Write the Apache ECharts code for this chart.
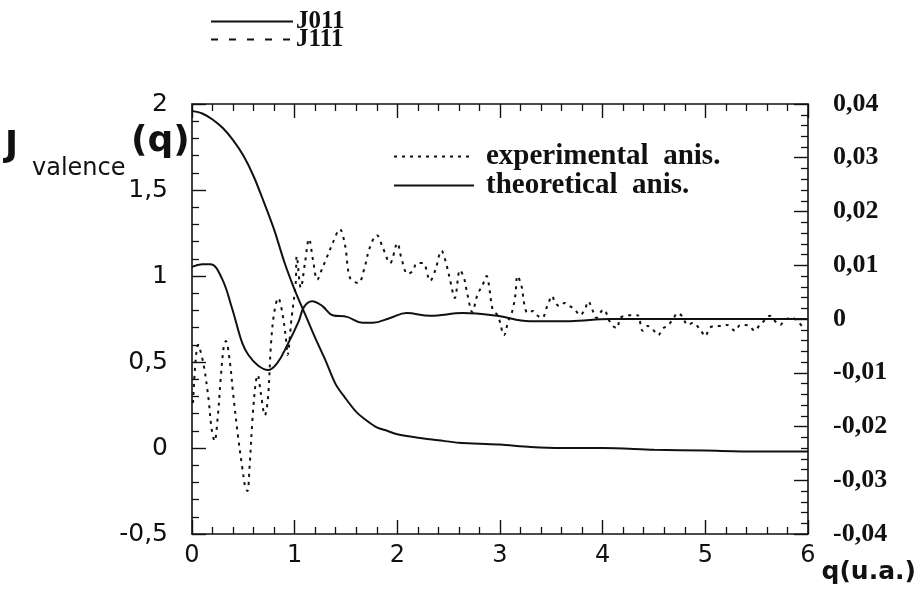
<!DOCTYPE html>
<html>
<head>
<meta charset="utf-8">
<script src="https://cdn.jsdelivr.net/npm/echarts@6/dist/echarts.min.js"></script>
<style>
html,body{margin:0;padding:0;background:#fff;}
#chart{width:923px;height:609px;}
</style>
</head>
<body>
<div id="chart"></div>
<script>
// ---- data ----
const jValQ   = [0,0.1,0.2,0.3,0.4,0.5,0.6,0.7,0.8,0.9,1.0,1.1,1.2,1.3,1.4,1.5,1.6,1.7,1.8,1.9,2.0,2.2,2.4,2.6,2.8,3.0,3.3,3.6,4.0,4.5,5.0,5.5,6.0];
const jValV   = [1.96,1.945,1.91,1.86,1.79,1.70,1.58,1.43,1.27,1.08,0.92,0.78,0.64,0.51,0.37,0.285,0.21,0.16,0.12,0.10,0.08,0.06,0.045,0.03,0.025,0.02,0.006,0.0,0.0,-0.01,-0.015,-0.02,-0.02];

const theoQ   = [0,0.1,0.18,0.29,0.39,0.49,0.55,0.64,0.74,0.83,0.93,1.04,1.09,1.17,1.27,1.37,1.51,1.66,1.76,1.93,2.09,2.32,2.64,2.97,3.29,3.68,4.07,5.0,6.0];
const theoV   = [0.0097,0.0102,0.0102,0.0076,0.0020,-0.0045,-0.0067,-0.0086,-0.0095,-0.0082,-0.0048,-0.0004,0.0022,0.0033,0.0024,0.0007,0.0004,-0.0007,-0.0007,0.0002,0.0011,0.0006,0.0011,0.0006,-0.0004,-0.0004,0,0,0];

const expQ = [0.01,0.06,0.11,0.16,0.19,0.22,0.25,0.28,0.31,0.33,0.37,0.40,0.45,0.49,0.52,0.54,0.56,0.59,0.62,0.64,0.67,0.71,0.74,0.77,0.80,0.84,0.88,0.92,0.93,0.97,1.01,1.02,1.06,1.10,1.14,1.18,1.22,1.27,1.31,1.37,1.44,1.49,1.54,1.62,1.68,1.73,1.80,1.86,1.93,2.00,2.04,2.10,2.15,2.19,2.25,2.32,2.37,2.43,2.48,2.51,2.56,2.61,2.65,2.68,2.73,2.78,2.83,2.87,2.90,2.93,2.98,3.04,3.08,3.12,3.15,3.17,3.21,3.24,3.27,3.32,3.36,3.41,3.46,3.51,3.53,3.58,3.63,3.68,3.73,3.78,3.83,3.86,3.90,3.94,3.99,4.02,4.05,4.10,4.14,4.17,4.22,4.28,4.34,4.39,4.44,4.49,4.54,4.59,4.63,4.68,4.73,4.77,4.83,4.88,4.95,5.00,5.04,5.09,5.16,5.21,5.29,5.34,5.38,5.43,5.48,5.53,5.58,5.63,5.68,5.73,5.77,5.84,5.89,5.94];
const expV = [-0.0156,-0.0048,-0.0082,-0.0147,-0.0203,-0.0227,-0.0184,-0.0110,-0.0050,-0.0041,-0.0082,-0.0138,-0.0221,-0.0277,-0.0314,-0.0320,-0.0277,-0.0184,-0.0119,-0.0104,-0.0138,-0.0179,-0.0147,-0.0045,0.0011,0.0039,0.0011,-0.0045,-0.0067,0.0002,0.0067,0.0117,0.0058,0.0104,0.0149,0.0108,0.0073,0.0095,0.0113,0.0141,0.0167,0.0138,0.0076,0.0067,0.0095,0.0132,0.0156,0.0132,0.0104,0.0141,0.0113,0.0084,0.0089,0.0104,0.0104,0.0071,0.0091,0.0127,0.0100,0.0076,0.0039,0.0091,0.0076,0.0048,0.0013,0.0045,0.0063,0.0080,0.0052,0.0017,0.0006,-0.0030,-0.0004,0.0015,0.0045,0.0080,0.0061,0.0024,0.0011,0.0015,0.0007,0.0002,0.0024,0.0043,0.0033,0.0024,0.0030,0.0024,0.0017,0.0007,0.0020,0.0033,0.0017,0.0002,0.0015,0.0017,0.0002,-0.0013,-0.0017,0.0002,0.0006,0.0007,0.0007,-0.0022,-0.0013,-0.0020,-0.0030,-0.0017,-0.0013,-0.0002,0.0011,0.0006,-0.0011,-0.0007,-0.0020,-0.0032,-0.0017,-0.0013,-0.0013,-0.0011,-0.0022,-0.0011,-0.0011,-0.0013,-0.0022,-0.0011,-0.0002,0.0006,-0.0004,-0.0011,-0.0002,0.0002,-0.0002,-0.0013];

const seriesNames = ['J011','J111','experimental  anis.','theoretical  anis.'];
const xTicks = [0,6,1];        // min, max, interval
const leftTicks = [-0.5,2,0.5];
const rightTicks = [-0.04,0.04,0.01];

const zip = (a,b) => a.map((x,i)=>[x,b[i]]);

const SANS = '"DejaVu Sans", Verdana, sans-serif';
const SERIF = '"Liberation Serif", "Times New Roman", serif';
const ink = '#111';

const frameAxis = {
  axisLine:{show:true,onZero:false,lineStyle:{color:ink,width:1.6}},
  axisTick:{show:true,inside:true,length:14,lineStyle:{color:ink,width:1.4}},
  minorTick:{show:true,splitNumber:5,length:7,lineStyle:{color:ink,width:1.3}},
  splitLine:{show:false}
};
const hiddenSymbol = {color:'rgba(0,0,0,0)',borderColor:'rgba(0,0,0,0)',borderWidth:0,opacity:0};

const chart = echarts.init(document.getElementById('chart'), null, {renderer:'canvas'});
chart.setOption({
  backgroundColor:'#fff',
  animation:false,
  grid:{left:192,right:115,top:104,bottom:75,containLabel:false,outerBoundsMode:'none'},
  legend:[
    {data:[seriesNames[0],seriesNames[1]],orient:'vertical',left:210,top:9,padding:0,
     itemWidth:82,itemHeight:12,itemGap:-7,itemStyle:hiddenSymbol,
     textStyle:{fontFamily:SERIF,fontWeight:'bold',fontSize:25,color:ink,lineHeight:16,padding:[0,0,0,-2]}},
    {data:[seriesNames[2],seriesNames[3]],orient:'vertical',left:393,top:142,padding:0,
     itemWidth:80,itemHeight:14,itemGap:0,itemStyle:hiddenSymbol,
     textStyle:{fontFamily:SERIF,fontWeight:'bold',fontSize:29,color:ink,lineHeight:26,padding:[0,0,0,7]}}
  ],
  xAxis:[
    Object.assign({type:'value',position:'bottom',min:xTicks[0],max:xTicks[1],interval:xTicks[2],
      name:'q(u.a.)',nameLocation:'end',nameGap:13,
      nameTextStyle:{fontFamily:SANS,fontWeight:'bold',fontSize:25,color:ink,verticalAlign:'top',padding:[26,0,0,0]},
      axisLabel:{fontFamily:SANS,fontSize:24,color:ink,margin:10}},frameAxis),
    Object.assign({type:'value',position:'top',min:xTicks[0],max:xTicks[1],interval:xTicks[2],
      axisLabel:{show:false}},frameAxis)
  ],
  yAxis:[
    Object.assign({type:'value',position:'left',min:leftTicks[0],max:leftTicks[1],interval:leftTicks[2],
      axisLabel:{fontFamily:SANS,fontSize:25,color:ink,margin:24,
        formatter:v=>String(Math.round(v*10)/10).replace('.',',')}},frameAxis),
    Object.assign({type:'value',position:'right',min:rightTicks[0],max:rightTicks[1],interval:rightTicks[2],
      axisLabel:{fontFamily:SERIF,fontWeight:'bold',fontSize:26,color:ink,margin:25,
        formatter:v=>Math.abs(v)<1e-9?'0':(Math.round(v*100)/100).toFixed(2).replace('.',',')}},frameAxis)
  ],
  graphic:[
    {type:'text',left:5,top:129,style:{text:'J',font:'bold 35px '+SANS,fill:ink}},
    {type:'text',left:32,top:157,style:{text:'valence',font:'24px '+SANS,fill:ink}},
    {type:'text',left:131,top:124,style:{text:'(q)',font:'bold 36px '+SANS,fill:ink}}
  ],
  series:[
    {name:seriesNames[0],type:'line',xAxisIndex:0,yAxisIndex:0,data:zip(jValQ,jValV),
     showSymbol:false,symbol:'none',smooth:0.3,lineStyle:{color:ink,width:2},itemStyle:{color:ink}},
    {name:seriesNames[1],type:'line',xAxisIndex:0,yAxisIndex:0,data:[],
     showSymbol:false,symbol:'none',lineStyle:{color:ink,width:2,type:[7,11]},itemStyle:{color:ink}},
    {name:seriesNames[2],type:'line',xAxisIndex:0,yAxisIndex:1,data:zip(expQ,expV),
     showSymbol:false,symbol:'none',smooth:0.35,lineStyle:{color:ink,width:2,type:[3,5]},itemStyle:{color:ink}},
    {name:seriesNames[3],type:'line',xAxisIndex:0,yAxisIndex:1,data:zip(theoQ,theoV),
     showSymbol:false,symbol:'none',smooth:0.4,lineStyle:{color:ink,width:2},itemStyle:{color:ink}}
  ]
});
</script>
</body>
</html>
